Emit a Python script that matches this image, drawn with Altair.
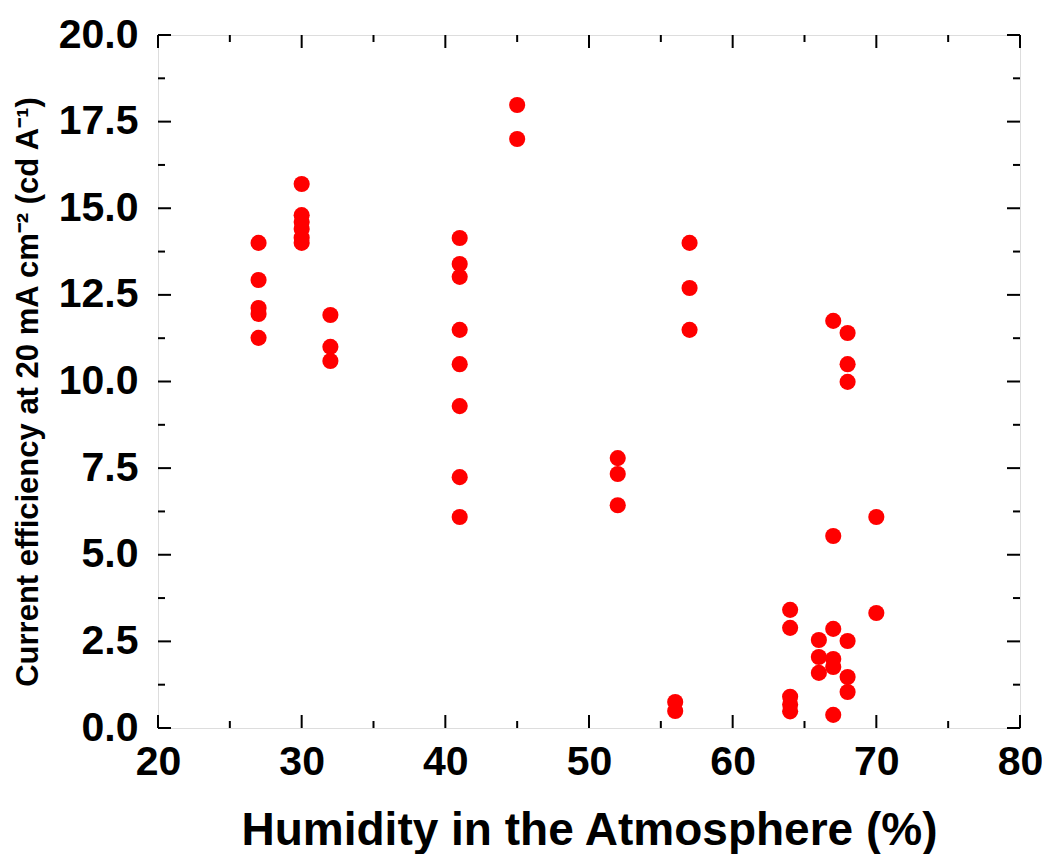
import altair as alt
import pandas as pd

humidity = [27, 27, 27, 27, 27,
            30, 30, 30, 30, 30, 30,
            32, 32, 32,
            41, 41, 41, 41, 41, 41, 41, 41,
            45, 45,
            52, 52, 52,
            56, 56,
            57, 57, 57,
            64, 64, 64, 64, 64,
            66, 66, 66,
            67, 67, 67, 67, 67, 67,
            68, 68, 68, 68, 68, 68,
            70, 70]
efficiency = [14.0, 12.93, 12.12, 11.95, 11.26,
              15.70, 14.8, 14.6, 14.4, 14.15, 14.0,
              11.92, 11.0, 10.59,
              14.14, 13.39, 13.02, 11.49, 10.5, 9.29, 7.24, 6.09,
              17.98, 17.0,
              7.79, 7.33, 6.43,
              0.75, 0.49,
              14.0, 12.7, 11.49,
              3.41, 2.89, 0.9, 0.68, 0.48,
              2.54, 2.05, 1.59,
              11.75, 5.54, 2.86, 1.99, 1.76, 0.38,
              11.4, 10.5, 9.99, 2.51, 1.47, 1.04,
              6.09, 3.32]

x_major = [20, 30, 40, 50, 60, 70, 80]
x_minor = [25, 35, 45, 55, 65, 75]
y_major = [0, 2.5, 5, 7.5, 10, 12.5, 15, 17.5, 20]
y_minor = [1.25, 3.75, 6.25, 8.75, 11.25, 13.75, 16.25, 18.75]

W, H = 862, 693
FONT = "Liberation Sans"

df = pd.DataFrame({"h": humidity, "e": efficiency})
xs = alt.Scale(domain=[20, 80], nice=False)
ys = alt.Scale(domain=[0, 20], nice=False)

points = alt.Chart(df).mark_circle(color="#FF0000", opacity=1, size=260).encode(
    x=alt.X("h:Q", scale=xs,
            axis=alt.Axis(values=x_major, format="d", ticks=False, domain=False, grid=False,
                          labelFlush=False, labelOverlap=False,
                          labelFont=FONT, labelFontSize=41, labelFontWeight="bold",
                          labelColor="black", labelPadding=14,
                          title="Humidity in the Atmosphere (%)", titleFont=FONT,
                          titleFontSize=46, titleFontWeight="bold", titleColor="black",
                          titlePadding=26)),
    y=alt.Y("e:Q", scale=ys,
            axis=alt.Axis(values=y_major, format=".1f", ticks=False, domain=False, grid=False,
                          labelFlush=False, labelOverlap=False,
                          labelFont=FONT, labelFontSize=41, labelFontWeight="bold",
                          labelColor="black", labelPadding=20,
                          title="Current efficiency at 20 mA cm⁻² (cd A⁻¹)", titleFont=FONT,
                          titleFontSize=31, titleFontWeight="bold", titleColor="black",
                          titlePadding=14, titleY=H / 2 + 10)),
)

def xticks(vals, length):
    d = pd.DataFrame({"v": vals})
    bottom = alt.Chart(d).mark_rule(color="black", strokeWidth=2).encode(
        x=alt.X("v:Q", scale=xs), y=alt.value(H), y2=alt.value(H - length))
    top = alt.Chart(d).mark_rule(color="black", strokeWidth=2).encode(
        x=alt.X("v:Q", scale=xs), y=alt.value(0), y2=alt.value(length))
    return [bottom, top]

def yticks(vals, length):
    d = pd.DataFrame({"v": vals})
    left = alt.Chart(d).mark_rule(color="black", strokeWidth=2).encode(
        y=alt.Y("v:Q", scale=ys), x=alt.value(0), x2=alt.value(length))
    right = alt.Chart(d).mark_rule(color="black", strokeWidth=2).encode(
        y=alt.Y("v:Q", scale=ys), x=alt.value(W), x2=alt.value(W - length))
    return [left, right]

layers = [points] + xticks(x_major, 13) + xticks(x_minor, 7) + yticks(y_major, 13) + yticks(y_minor, 7)

chart = alt.layer(*layers).properties(
    width=W, height=H,
    autosize=alt.AutoSizeParams(type="none"),
    padding={"left": 150, "top": 27, "right": 22, "bottom": 126},
).configure_view(stroke="black", strokeWidth=2.5).configure(background="white")

chart.save("out.html", embed_options={"renderer": "svg", "actions": False})
